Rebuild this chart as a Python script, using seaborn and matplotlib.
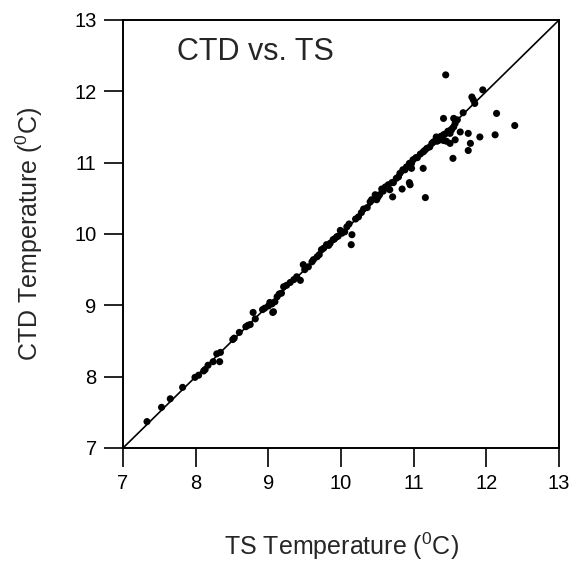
import numpy as np
import pandas as pd
import seaborn as sns
import matplotlib
matplotlib.use("Agg")
import matplotlib.pyplot as plt

# TS (x) vs CTD (y) temperatures
ts_temp = [
    7.33, 7.53, 7.65, 7.82, 7.99, 8.04, 8.11, 8.13, 8.17, 8.24, 8.33, 8.29, 8.34,
    8.51, 8.53, 8.60, 8.69, 8.72, 8.75, 8.79, 8.82, 8.92, 8.95, 9.00, 9.05, 9.09,
    9.06, 9.07, 9.12, 9.18, 9.21, 9.25, 9.30, 9.39, 9.44, 9.48, 9.50, 9.55, 9.60,
    9.67, 9.73, 9.76, 9.80, 9.85, 9.89, 9.94, 9.99, 10.01, 10.05, 10.11, 10.15,
    10.14, 10.24, 10.31, 10.40, 10.42, 10.47, 10.49, 10.51, 10.56, 10.61, 10.65,
    10.67, 10.72, 10.76, 10.81, 10.85, 10.90, 10.94, 10.99, 11.03, 11.09, 11.13,
    11.18, 11.22, 11.27, 11.31, 11.36, 11.41, 11.34, 10.71, 10.84, 10.94, 10.95,
    10.97, 11.13, 11.16, 11.41, 11.50, 11.52, 11.55, 11.57, 11.60, 11.55, 11.41,
    11.68, 11.80, 11.82, 11.84, 11.95, 11.44, 11.50, 11.57, 11.64, 11.75, 11.78,
    11.75, 11.54, 11.91, 12.12, 12.14, 12.39,
    9.02, 9.15, 9.35, 9.62, 9.70, 9.83, 9.91, 9.96, 10.08, 10.20, 10.28, 10.36,
    10.53, 10.58, 10.70, 10.79, 10.88, 10.97, 11.05, 11.15, 11.25, 11.30, 11.33,
    11.38, 11.43, 11.47, 11.32, 11.36, 11.45,
]
ctd_temp = [
    7.37, 7.57, 7.69, 7.85, 7.99, 8.02, 8.08, 8.10, 8.16, 8.21, 8.21, 8.32, 8.34,
    8.52, 8.54, 8.62, 8.70, 8.72, 8.73, 8.90, 8.81, 8.94, 8.96, 8.99, 9.02, 9.05,
    8.90, 8.91, 9.12, 9.17, 9.26, 9.28, 9.32, 9.40, 9.35, 9.57, 9.50, 9.54, 9.61,
    9.68, 9.78, 9.80, 9.85, 9.87, 9.92, 9.96, 10.05, 10.01, 10.03, 10.14, 9.99,
    9.85, 10.24, 10.35, 10.45, 10.48, 10.55, 10.48, 10.52, 10.63, 10.66, 10.69,
    10.62, 10.72, 10.78, 10.85, 10.90, 10.94, 10.99, 11.04, 11.07, 11.12, 11.15,
    11.20, 11.22, 11.29, 11.36, 11.36, 11.31, 11.31, 10.52, 10.63, 10.72, 10.69,
    10.92, 10.92, 10.51, 11.39, 11.41, 11.46, 11.50, 11.55, 11.60, 11.62, 11.62,
    11.70, 11.92, 11.88, 11.83, 12.02, 12.23, 11.27, 11.32, 11.43, 11.41, 11.27,
    11.17, 11.06, 11.36, 11.39, 11.69, 11.52,
    9.04, 9.16, 9.36, 9.64, 9.71, 9.84, 9.93, 9.97, 10.10, 10.21, 10.30, 10.37,
    10.55, 10.60, 10.72, 10.80, 10.90, 10.99, 11.07, 11.17, 11.27, 11.31, 11.34,
    11.37, 11.40, 11.44, 11.30, 11.33, 11.30,
]
one_to_one = [7, 13]
ticks = [7, 8, 9, 10, 11, 12, 13]

df = pd.DataFrame({"ts": ts_temp, "ctd": ctd_temp})

sns.set_style("ticks")
plt.rcParams["font.family"] = ["Liberation Sans", "DejaVu Sans"]
plt.rcParams["mathtext.fontset"] = "custom"
plt.rcParams["mathtext.rm"] = "Liberation Sans"
plt.rcParams["mathtext.it"] = "Liberation Sans"

fig = plt.figure(figsize=(5.73, 5.64), dpi=100)
ax = fig.add_axes([0.2147, 0.2057, 0.761, 0.7589])

sns.lineplot(x=one_to_one, y=one_to_one, color="black", linewidth=1.2, ax=ax)
sns.scatterplot(data=df, x="ts", y="ctd", color="black", s=26,
                edgecolor="none", ax=ax, zorder=3)

ax.set_xlim(7, 13)
ax.set_ylim(7, 13)
ax.set_xticks(ticks)
ax.set_yticks(ticks)
ax.tick_params(direction="out", length=14, width=1.2, labelsize=14.5,
               color="black", labelcolor="black", pad=5)
for sp in ax.spines.values():
    sp.set_linewidth(1.4)
    sp.set_color("black")

ax.set_xlabel(r"TS Temperature ($^{\mathrm{0}}$C)", fontsize=18, labelpad=27)
ax.set_ylabel(r"CTD Temperature ($^{\mathrm{0}}$C)", fontsize=18, labelpad=21)
ax.text(0.124, 0.925, "CTD vs. TS", transform=ax.transAxes, fontsize=22,
        va="center", ha="left")

fig.savefig("out.png", dpi=100)
